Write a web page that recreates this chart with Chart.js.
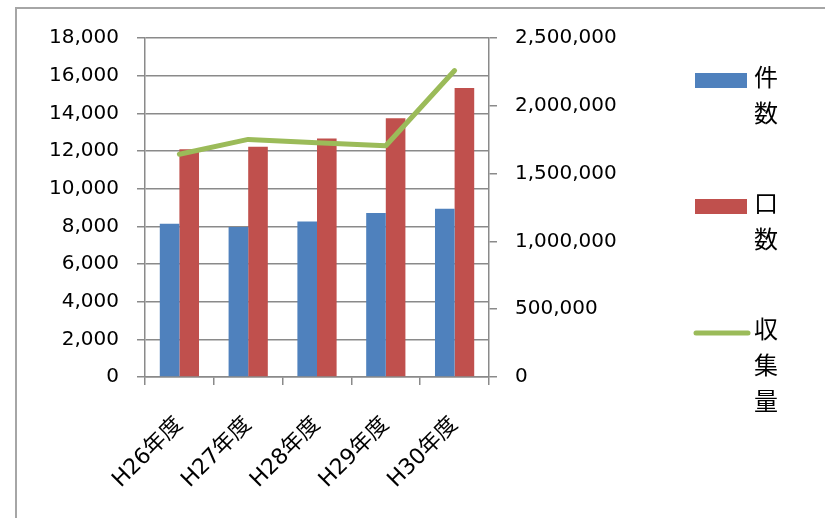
<!DOCTYPE html>
<html>
<head>
<meta charset="utf-8">
<script src="https://cdn.jsdelivr.net/npm/chart.js@4/dist/chart.umd.min.js"></script>
<style>
  html, body { margin: 0; padding: 0; background: #fff; }
  #wrap { width: 825px; height: 518px; }
</style>
</head>
<body>
<div id="wrap"><canvas id="chart" width="825" height="518"></canvas></div>
<script>
const categories = ['H26年度', 'H27年度', 'H28年度', 'H29年度', 'H30年度'];
const seriesNames = ['件数', '口数', '収集量'];
const kensu = [8140, 7960, 8260, 8710, 8940];
const kousu = [12090, 12230, 12670, 13740, 15340];
const shushuryo = [1643000, 1752000, 1727000, 1705000, 2260000];
const leftTicks = [0, 2000, 4000, 6000, 8000, 10000, 12000, 14000, 16000, 18000];
const rightTicks = [0, 500000, 1000000, 1500000, 2000000, 2500000];

const FONT = '"DejaVu Sans", "Noto Sans CJK JP", sans-serif';
const GRID = '#8a8a8a';

// frame around the chart + vertical legend (labels wrap one char per line)
const framePlugin = {
  id: 'frame',
  beforeDraw(chart) {
    const ctx = chart.ctx;
    ctx.save();
    ctx.strokeStyle = '#a6a6a6';
    ctx.lineWidth = 2;
    ctx.strokeRect(16, 8, 830, 530);
    ctx.restore();
  }
};

const sideLegend = {
  id: 'sideLegend',
  afterDraw(chart) {
    const ctx = chart.ctx;
    const lineH = 36, gap = 54;
    let y = 80;
    ctx.save();
    ctx.font = '24px ' + FONT;
    ctx.textAlign = 'center';
    ctx.textBaseline = 'middle';
    chart.data.datasets.forEach(ds => {
      if (ds.type === 'line') {
        ctx.strokeStyle = ds.borderColor;
        ctx.lineWidth = 5;
        ctx.lineCap = 'round';
        ctx.beginPath();
        ctx.moveTo(696, y + 1);
        ctx.lineTo(748, y + 1);
        ctx.stroke();
      } else {
        ctx.fillStyle = ds.backgroundColor;
        ctx.fillRect(695, y - 7, 52, 15);
      }
      ctx.fillStyle = '#000';
      const chars = Array.from(ds.label);
      chars.forEach((c, i) => ctx.fillText(c, 766, y + i * lineH));
      y += chars.length * lineH + gap;
    });
    ctx.restore();
  }
};

new Chart(document.getElementById('chart'), {
  data: {
    labels: categories,
    datasets: [
      {
        type: 'bar', label: seriesNames[0], data: kensu, yAxisID: 'y',
        backgroundColor: '#4f81bd', order: 2
      },
      {
        type: 'bar', label: seriesNames[1], data: kousu, yAxisID: 'y',
        backgroundColor: '#c0504d', order: 2
      },
      {
        type: 'line', label: seriesNames[2], data: shushuryo, yAxisID: 'y1',
        borderColor: '#9bbb59', backgroundColor: '#9bbb59', borderWidth: 5,
        borderCapStyle: 'round', borderJoinStyle: 'round',
        pointRadius: 0, tension: 0, order: 1
      }
    ]
  },
  options: {
    responsive: false,
    animation: false,
    layout: { padding: { top: 38, left: 0, right: 0, bottom: 0 } },
    datasets: { bar: { categoryPercentage: 0.57, barPercentage: 1 } },
    plugins: { legend: { display: false }, tooltip: { enabled: false } },
    scales: {
      x: {
        grid: { display: true, drawOnChartArea: false, drawTicks: true, tickLength: 8, color: GRID, lineWidth: 1.5, offset: true },
        border: { display: true, color: GRID, width: 1.5 },
        ticks: { color: '#000', font: { family: FONT, size: 22 }, minRotation: 45, maxRotation: 45, padding: 27 },
        afterFit(s) { s.height = 518 - 377; }
      },
      y: {
        position: 'left', min: 0, max: 18000,
        afterBuildTicks(s) { s.ticks = leftTicks.map(v => ({ value: v })); },
        grid: { color: GRID, lineWidth: 1.5, tickLength: 8 },
        border: { display: true, color: GRID, width: 1.5 },
        ticks: { color: '#000', font: { family: FONT, size: 20 }, padding: 18,
          callback: v => v.toLocaleString('en-US') },
        afterFit(s) { s.width = 145; }
      },
      y1: {
        position: 'right', min: 0, max: 2500000,
        afterBuildTicks(s) { s.ticks = rightTicks.map(v => ({ value: v })); },
        grid: { drawOnChartArea: false, color: GRID, lineWidth: 1.5, tickLength: 8 },
        border: { display: true, color: GRID, width: 1.5 },
        ticks: { color: '#000', font: { family: FONT, size: 20 }, padding: 18,
          callback: v => v.toLocaleString('en-US') },
        afterFit(s) { s.width = 825 - 489; }
      }
    }
  },
  plugins: [framePlugin, sideLegend]
});
</script>
</body>
</html>
